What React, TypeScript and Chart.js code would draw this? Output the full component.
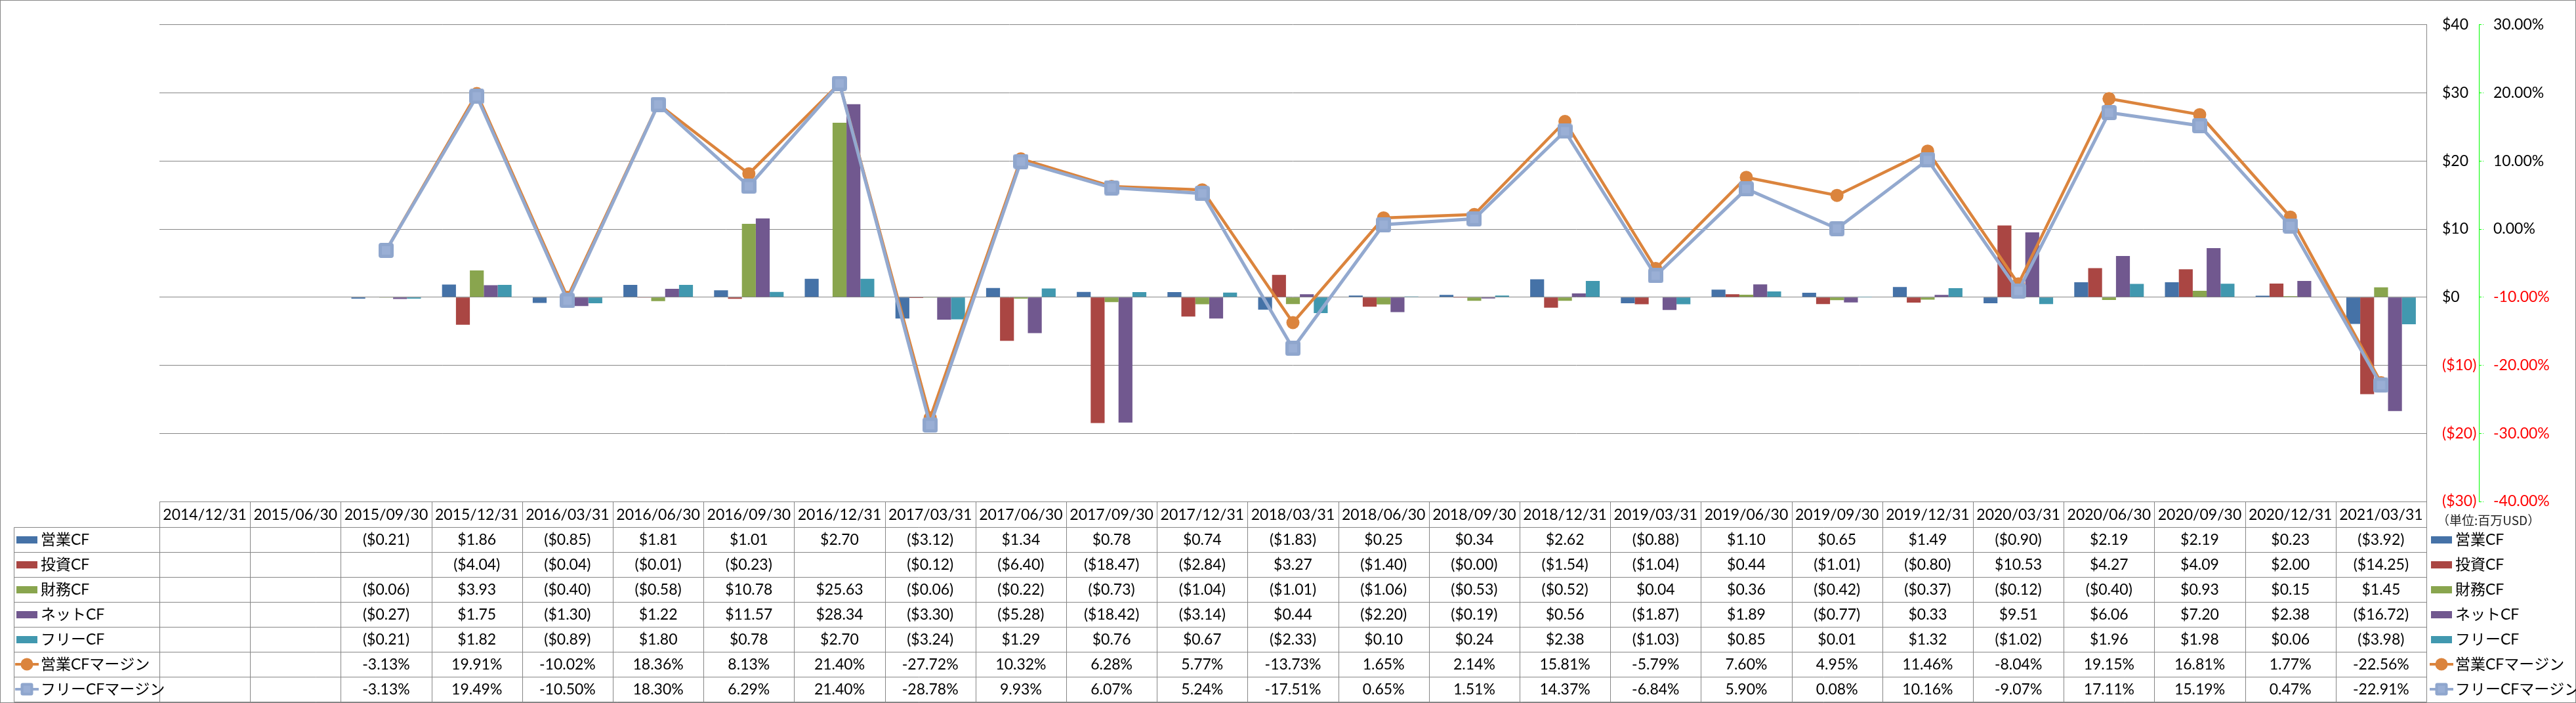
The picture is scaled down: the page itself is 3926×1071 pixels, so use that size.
import React, { useEffect, useRef } from 'react';
import { Chart, registerables } from 'chart.js';

Chart.register(...registerables);

// ---------------- data ----------------
const categories = [
  '2014/12/31', '2015/06/30', '2015/09/30', '2015/12/31', '2016/03/31',
  '2016/06/30', '2016/09/30', '2016/12/31', '2017/03/31', '2017/06/30',
  '2017/09/30', '2017/12/31', '2018/03/31', '2018/06/30', '2018/09/30',
  '2018/12/31', '2019/03/31', '2019/06/30', '2019/09/30', '2019/12/31',
  '2020/03/31', '2020/06/30', '2020/09/30', '2020/12/31', '2021/03/31',
];

const operatingCF = [null, null, -0.21, 1.86, -0.85, 1.81, 1.01, 2.70, -3.12, 1.34, 0.78, 0.74, -1.83, 0.25, 0.34, 2.62, -0.88, 1.10, 0.65, 1.49, -0.90, 2.19, 2.19, 0.23, -3.92];
const investingCF = [null, null, null, -4.04, -0.04, -0.01, -0.23, null, -0.12, -6.40, -18.47, -2.84, 3.27, -1.40, -0.001, -1.54, -1.04, 0.44, -1.01, -0.80, 10.53, 4.27, 4.09, 2.00, -14.25];
const financingCF = [null, null, -0.06, 3.93, -0.40, -0.58, 10.78, 25.63, -0.06, -0.22, -0.73, -1.04, -1.01, -1.06, -0.53, -0.52, 0.04, 0.36, -0.42, -0.37, -0.12, -0.40, 0.93, 0.15, 1.45];
const netCF = [null, null, -0.27, 1.75, -1.30, 1.22, 11.57, 28.34, -3.30, -5.28, -18.42, -3.14, 0.44, -2.20, -0.19, 0.56, -1.87, 1.89, -0.77, 0.33, 9.51, 6.06, 7.20, 2.38, -16.72];
const freeCF = [null, null, -0.21, 1.82, -0.89, 1.80, 0.78, 2.70, -3.24, 1.29, 0.76, 0.67, -2.33, 0.10, 0.24, 2.38, -1.03, 0.85, 0.01, 1.32, -1.02, 1.96, 1.98, 0.06, -3.98];
// margins in percent
const operatingMargin = [null, null, -3.13, 19.91, -10.02, 18.36, 8.13, 21.40, -27.72, 10.32, 6.28, 5.77, -13.73, 1.65, 2.14, 15.81, -5.79, 7.60, 4.95, 11.46, -8.04, 19.15, 16.81, 1.77, -22.56];
const freeMargin = [null, null, -3.13, 19.49, -10.50, 18.30, 6.29, 21.40, -28.78, 9.93, 6.07, 5.24, -17.51, 0.65, 1.51, 14.37, -6.84, 5.90, 0.08, 10.16, -9.07, 17.11, 15.19, 0.47, -22.91];

const barSeriesNames = ['営業CF', '投資CF', '財務CF', 'ネットCF', 'フリーCF'];
const lineSeriesNames = ['営業CFマージン', 'フリーCFマージン'];

const dollarMin = -30;
const dollarMax = 40;
const dollarStep = 10;
const percentMin = -40;
const percentMax = 30;
const percentStep = 10;

const unitLabel = '（単位:百万USD）';

// ---------------- styles ----------------
const W = 3926;
const H = 1071;
const FONT = 'Lato, "Noto Sans CJK JP", sans-serif';
const CJK_FONT = '"Noto Sans CJK JP", sans-serif';
const TEXT_SIZE = 23;
const GRID = '#868686';
const barColors = ['#4572A7', '#AA4643', '#89A54E', '#71588F', '#4198AF'];
const lineColors = ['#DB843D', '#93A9CF'];
const BLUE_MARK_FILL = '#8FA6CD';
const BLUE_MARK_INNER = '#9AAFD5';
const AXIS_GREEN = '#00FF00';

const PLOT_LEFT = 243;
const PLOT_RIGHT = 3698;
const PLOT_TOP = 15;
const PLOT_BOTTOM = 764;
const Y_AXIS_W = 80;
const Y1_AXIS_W = 120;
const HEADER_H = 39;
const ROW_H = 38;
const TABLE_LEFT = 21;

function fmtMoney(v: number | null) {
  if (v === null || v === undefined) return '';
  return v < 0 ? `($${Math.abs(v).toFixed(2)})` : `$${v.toFixed(2)}`;
}
function fmtPct(v: number | null) {
  if (v === null || v === undefined) return '';
  return `${v.toFixed(2)}%`;
}

function roundRectPath(g: CanvasRenderingContext2D, x: number, y: number, w: number, h: number, r: number) {
  g.beginPath();
  g.moveTo(x + r, y);
  g.lineTo(x + w - r, y);
  g.arcTo(x + w, y, x + w, y + r, r);
  g.lineTo(x + w, y + h - r);
  g.arcTo(x + w, y + h, x + w - r, y + h, r);
  g.lineTo(x + r, y + h);
  g.arcTo(x, y + h, x, y + h - r, r);
  g.lineTo(x, y + r);
  g.arcTo(x, y, x + r, y, r);
  g.closePath();
}

function drawSquareMarker(g: CanvasRenderingContext2D, cx: number, cy: number, size: number) {
  const x = cx - size / 2;
  const y = cy - size / 2;
  g.fillStyle = BLUE_MARK_FILL;
  roundRectPath(g, x, y, size, size, Math.max(3, size * 0.17));
  g.fill();
  g.fillStyle = BLUE_MARK_INNER;
  const inset = size * 0.22;
  g.fillRect(x + inset, y + inset, size - 2 * inset, size - 2 * inset);
}

function makeSquareMarker(size: number) {
  const c = document.createElement('canvas');
  c.width = size;
  c.height = size;
  const g = c.getContext('2d')!;
  drawSquareMarker(g, size / 2, size / 2, size);
  return c;
}

const tablePlugin = {
  id: 'excelTable',
  beforeDraw(chart: any) {
    const ctx = chart.ctx;
    ctx.save();
    ctx.fillStyle = '#ffffff';
    ctx.fillRect(0, 0, chart.width, chart.height);
    ctx.restore();
  },
  afterDraw(chart: any) {
    const ctx: CanvasRenderingContext2D = chart.ctx;
    const xs = chart.scales.x;
    const area = chart.chartArea;
    const n = categories.length;
    const colW = (area.right - area.left) / n;
    const headTop = area.bottom;
    const headBottom = headTop + HEADER_H;
    const rowsData: (number | null)[][] = [operatingCF, investingCF, financingCF, netCF, freeCF, operatingMargin, freeMargin];
    const names = [...barSeriesNames, ...lineSeriesNames];
    const nRows = rowsData.length;
    const tableBottom = headBottom + nRows * ROW_H;
    const px = (v: number) => Math.round(v) + 0.5;

    ctx.save();
    ctx.strokeStyle = GRID;
    ctx.lineWidth = 1;
    ctx.beginPath();
    // horizontal lines
    ctx.moveTo(px(area.left), px(headTop));
    ctx.lineTo(px(area.right), px(headTop));
    for (let r = 0; r <= nRows; r++) {
      const y = px(headBottom + r * ROW_H);
      ctx.moveTo(px(TABLE_LEFT), y);
      ctx.lineTo(px(area.right), y);
    }
    // vertical lines
    ctx.moveTo(px(TABLE_LEFT), px(headBottom));
    ctx.lineTo(px(TABLE_LEFT), px(tableBottom));
    for (let i = 0; i <= n; i++) {
      const bx = i < n ? xs.getPixelForValue(i) - colW / 2 : xs.getPixelForValue(n - 1) + colW / 2;
      ctx.moveTo(px(bx), px(headTop));
      ctx.lineTo(px(bx), px(tableBottom));
    }
    ctx.stroke();

    // outer chart border
    ctx.strokeRect(0.5, 0.5, W - 1, H - 1);

    // header labels
    ctx.fillStyle = '#000000';
    ctx.font = `${TEXT_SIZE}px ${FONT}`;
    ctx.textAlign = 'center';
    ctx.textBaseline = 'middle';
    for (let i = 0; i < n; i++) {
      ctx.fillText(categories[i], xs.getPixelForValue(i), headTop + HEADER_H / 2 + 1);
    }
    // values
    for (let r = 0; r < nRows; r++) {
      const yc = headBottom + r * ROW_H + ROW_H / 2 + 1;
      const fmt = r < 5 ? fmtMoney : fmtPct;
      for (let i = 0; i < n; i++) {
        const t = fmt(rowsData[r][i]);
        if (t) ctx.fillText(t, xs.getPixelForValue(i), yc);
      }
    }

    // legend keys (row headers + right legend)
    const drawKey = (r: number, kx: number, tx: number, yc: number) => {
      if (r < 5) {
        ctx.fillStyle = barColors[r];
        ctx.fillRect(kx, yc - 5, 32, 11);
      } else {
        const c = lineColors[r - 5];
        ctx.strokeStyle = c;
        ctx.lineWidth = 4;
        ctx.beginPath();
        ctx.moveTo(kx - 2, yc);
        ctx.lineTo(kx + 34, yc);
        ctx.stroke();
        if (r === 5) {
          ctx.fillStyle = c;
          ctx.beginPath();
          ctx.arc(kx + 16, yc, 9.5, 0, Math.PI * 2);
          ctx.fill();
        } else {
          drawSquareMarker(ctx, kx + 16, yc, 19);
        }
      }
      ctx.fillStyle = '#000000';
      ctx.font = `${TEXT_SIZE}px ${FONT}`;
      ctx.textAlign = 'left';
      ctx.textBaseline = 'middle';
      ctx.fillText(names[r], tx, yc + 1);
    };
    for (let r = 0; r < nRows; r++) {
      const yc = headBottom + r * ROW_H + ROW_H / 2;
      drawKey(r, 25, 62, yc);
      drawKey(r, area.right + 7, area.right + 44, yc);
    }

    // unit label
    ctx.fillStyle = '#222222';
    ctx.font = `19px ${CJK_FONT}`;
    ctx.textAlign = 'left';
    ctx.textBaseline = 'middle';
    ctx.fillText(unitLabel, area.right + 16, headTop + 29);
    ctx.restore();
  },
};

export default function App() {
  const ref = useRef<HTMLCanvasElement>(null);

  useEffect(() => {
    document.body.style.margin = '0';
    const canvas = ref.current!;
    const blueMarker = makeSquareMarker(23);
    const barData = [operatingCF, investingCF, financingCF, netCF, freeCF];

    Chart.defaults.font.family = FONT;
    Chart.defaults.font.size = TEXT_SIZE;

    const tickColor = (c: any) => (c.tick && c.tick.value < -1e-9 ? '#FF0000' : '#000000');

    const chart = new Chart(canvas, {
      type: 'bar',
      data: {
        labels: categories,
        datasets: [
          ...barData.map((d, i) => ({
            type: 'bar' as const,
            label: barSeriesNames[i],
            data: d,
            backgroundColor: barColors[i],
            borderWidth: 0,
            yAxisID: 'y',
            order: 3,
            categoryPercentage: 0.767,
            barPercentage: 1,
          })),
          {
            type: 'line' as const,
            label: lineSeriesNames[0],
            data: operatingMargin,
            yAxisID: 'y1',
            borderColor: lineColors[0],
            borderWidth: 4.5,
            backgroundColor: lineColors[0],
            pointStyle: 'circle',
            pointRadius: 10,
            pointBackgroundColor: lineColors[0],
            pointBorderColor: lineColors[0],
            pointBorderWidth: 0,
            tension: 0,
            order: 2,
          },
          {
            type: 'line' as const,
            label: lineSeriesNames[1],
            data: freeMargin,
            yAxisID: 'y1',
            borderColor: lineColors[1],
            borderWidth: 5,
            backgroundColor: lineColors[1],
            pointStyle: blueMarker as any,
            pointRadius: 12,
            tension: 0,
            order: 1,
          },
        ],
      } as any,
      options: {
        responsive: false,
        devicePixelRatio: 1,
        animation: false,
        events: [],
        layout: {
          padding: {
            left: PLOT_LEFT,
            top: PLOT_TOP,
            bottom: H - PLOT_BOTTOM,
            right: W - PLOT_RIGHT - Y_AXIS_W - Y1_AXIS_W,
          },
        },
        plugins: {
          legend: { display: false },
          tooltip: { enabled: false },
          title: { display: false },
        },
        scales: {
          x: {
            display: false,
            offset: true,
          },
          y: {
            position: 'right',
            weight: 0,
            min: dollarMin,
            max: dollarMax,
            ticks: {
              stepSize: dollarStep,
              padding: 24,
              color: tickColor,
              font: { family: FONT, size: TEXT_SIZE },
              callback: (v: any) => (v < 0 ? `($${Math.abs(v)})` : `$${v}`),
            },
            grid: {
              color: GRID,
              lineWidth: 1,
              drawTicks: false,
              drawOnChartArea: true,
            },
            border: { display: true, color: GRID, width: 1 },
            afterFit: (s: any) => {
              s.width = Y_AXIS_W;
            },
          },
          y1: {
            position: 'right',
            weight: 1,
            min: percentMin,
            max: percentMax,
            ticks: {
              stepSize: percentStep,
              padding: 15,
              color: tickColor,
              font: { family: FONT, size: TEXT_SIZE },
              callback: (v: any) => `${Number(v).toFixed(2)}%`,
            },
            grid: {
              drawOnChartArea: false,
              drawTicks: true,
              tickLength: 7,
              tickColor: AXIS_GREEN,
              tickWidth: 1,
              tickBorderDash: [3, 2],
            },
            border: { display: true, color: AXIS_GREEN, width: 1, dash: [5, 3] },
            afterFit: (s: any) => {
              s.width = Y1_AXIS_W;
            },
          },
        },
      } as any,
      plugins: [tablePlugin],
    });

    return () => chart.destroy();
  }, []);

  return <canvas ref={ref} width={W} height={H} style={{ display: 'block', width: W, height: H }} />;
}
